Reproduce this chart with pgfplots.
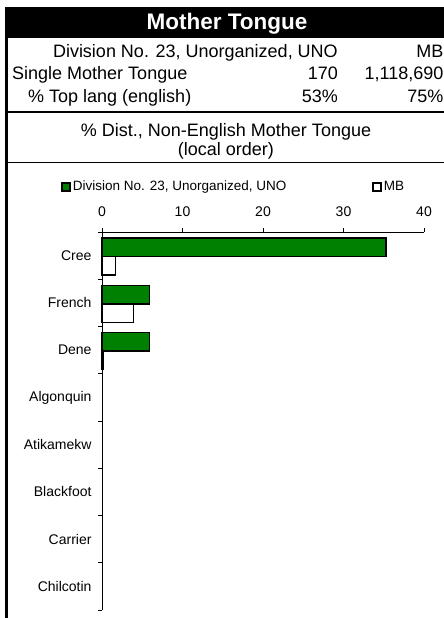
\documentclass[border=0pt]{standalone}
\usepackage{fontspec}
\setmainfont{Liberation Sans}
\usepackage{pgfplots}
\pgfplotsset{compat=1.18}
\definecolor{dgreen}{RGB}{0,128,0}
\begin{document}
\begin{tikzpicture}[x=1bp,y=1bp]
\path[use as bounding box] (0,0) rectangle (444,-618);
\fill[black] (5,-7) rectangle (444,-38);
\node[text=white, font=\fontsize{22.5bp}{27bp}\selectfont\bfseries, anchor=base, inner sep=0] at (227,-29.5) {Mother Tongue};
\draw[line width=3bp] (6.5,-7) -- (6.5,-618);
\draw[line width=2.5bp] (5,-112) -- (444,-112);
\draw[line width=1bp] (5,-163) -- (444,-163);
\begin{scope}[every node/.style={inner sep=0, font=\fontsize{18bp}{22bp}\selectfont}]
\node[anchor=base east] at (338,-58) {Division No. 23, Unorganized, UNO};
\node[anchor=base east] at (443.5,-58) {MB};
\node[anchor=base west] at (12,-80) {Single Mother Tongue};
\node[anchor=base east] at (338,-80) {170};
\node[anchor=base east] at (443.5,-80) {1,118,690};
\node[anchor=base west] at (28,-103) {\% Top lang (english)};
\node[anchor=base east] at (338,-103) {53\%};
\node[anchor=base east] at (443.5,-103) {75\%};
\node[anchor=base] at (226,-136.5) {\% Dist., Non-English Mother Tongue};
\node[anchor=base] at (226,-155.5) {(local order)};
\end{scope}
\begin{axis}[
  at={(102bp,-610bp)}, anchor=south west,
  scale only axis, width=322bp, height=378bp,
  xmin=0, xmax=40, ymin=-0.5, ymax=7.5,
  axis x line*=top, axis y line*=left,
  axis line style={line width=1bp, black},
  xtick={0,10,20,30,40},
  ytick={-0.5,0.5,...,7.5},
  y tick label as interval,
  yticklabels={Chilcotin,Carrier,Blackfoot,Atikamekw,Algonquin,Dene,French,Cree},
  tick align=outside, major tick length=4bp,
  tick style={line width=1bp, black},
  ticklabel style={font=\fontsize{14bp}{16bp}\selectfont},
  xticklabel style={yshift=8bp},
  yticklabel style={xshift=-3bp},
  /pgf/number format/assume math mode=true,
  legend style={at={(axis description cs:-0.127,1.119)}, anchor=west, draw=none, fill=none, inner sep=0pt,
    font=\fontsize{13.5bp}{16bp}\selectfont,
    nodes={text height=9.5bp, text depth=3bp},
    /tikz/every even column/.append style={column sep=84bp}},
  legend columns=2,
  legend image code/.code={\draw[#1,line width=1.5bp] (0bp,-4bp) rectangle (8bp,4bp);},
  clip=false,
]
\addplot[xbar, bar width=0.39, bar shift=0.175, fill=dgreen, draw=black, line width=1.5bp]
  coordinates {(35.29,7) (5.88,6) (5.88,5)};
\addlegendentry{Division No. 23, Unorganized, UNO}
\addplot[xbar, bar width=0.39, bar shift=-0.215, fill=white, draw=black, line width=1.5bp]
  coordinates {(1.7,7) (3.9,6) (0.15,5)};
\addlegendentry{MB}
\end{axis}
\end{tikzpicture}
\end{document}
